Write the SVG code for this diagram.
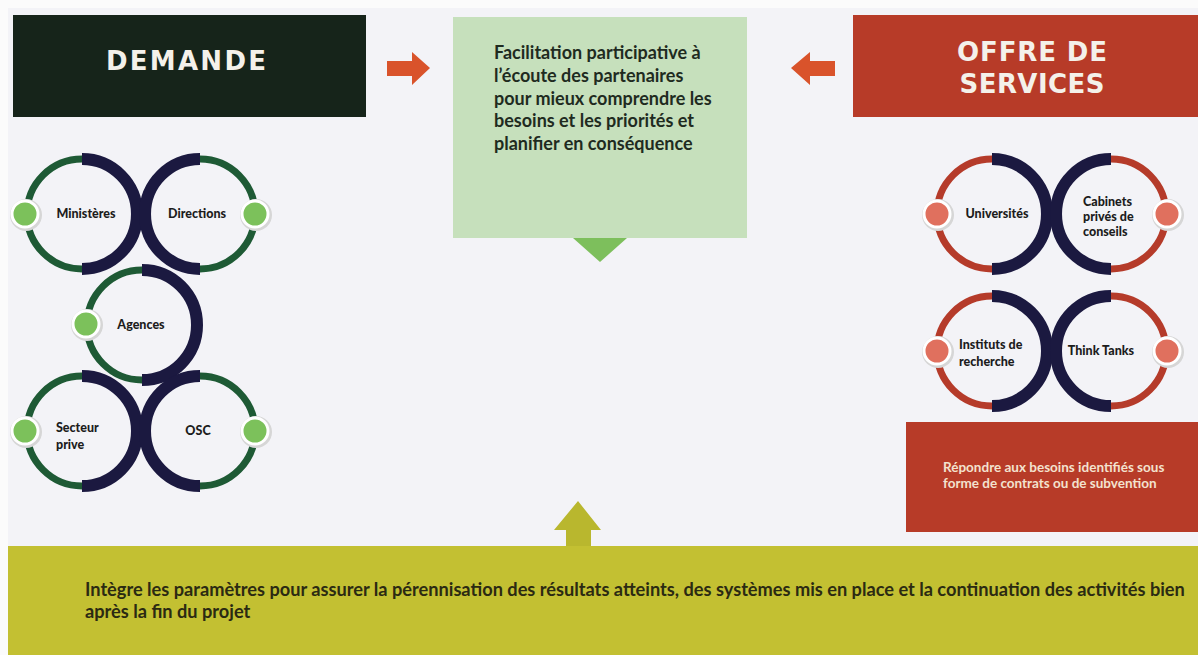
<svg xmlns="http://www.w3.org/2000/svg" width="1198" height="655" viewBox="0 0 1198 655">
<defs>
<style>
.t{font-family:Lato,"Open Sans","Liberation Sans",sans-serif;font-weight:700}
.hd{font-family:"DejaVu Sans","Liberation Sans",sans-serif;font-weight:700;fill:#f4f1ea;font-size:26px}
.lbl{fill:#1c1c1c;font-size:12.5px;font-weight:900}
.ring-g{fill:none;stroke:#1e5a35;stroke-width:7}
.ring-r{fill:none;stroke:#b53b2a;stroke-width:7}
.navy{fill:none;stroke:#1b1940;stroke-width:12}
.dot-g{fill:#7cc15b;stroke:#ffffff;stroke-width:3}
.dot-r{fill:#e0705e;stroke:#ffffff;stroke-width:3}
.shadow{fill:#d6d6d6}
.orange{fill:#d9532b}
</style>
</defs>
<rect x="0" y="0" width="1198" height="655" fill="#fbfbfb"/>
<rect x="8" y="8" width="1190" height="647" fill="#f3f3f7"/>

<g id="demande">
<rect x="13" y="15" width="353" height="102" fill="#16241a"/>
<text class="hd" x="186" y="70" text-anchor="middle" textLength="160" lengthAdjust="spacing">DEMANDE</text>
</g>

<g id="offre">
<rect x="853" y="15" width="345" height="102" fill="#b73b28"/>
<text class="hd" x="1032" y="61" text-anchor="middle" textLength="150" lengthAdjust="spacing">OFFRE DE</text>
<text class="hd" x="1032" y="93" text-anchor="middle" textLength="145" lengthAdjust="spacing">SERVICES</text>
</g>

<g id="facilitation">
<rect x="453" y="17" width="294" height="221" fill="#c6e0bc"/>
<polygon points="573,238 627,238 600,262" fill="#7dbf5c"/>
<text class="t" fill="#1f2b1f" font-size="18" x="494">
<tspan x="494" y="59">Facilitation participative à</tspan>
<tspan x="494" y="82">l’écoute des partenaires</tspan>
<tspan x="494" y="104.5">pour mieux comprendre les</tspan>
<tspan x="494" y="127">besoins et les priorités et</tspan>
<tspan x="494" y="150">planifier en conséquence</tspan>
</text>
</g>

<g id="connectors">
<polygon class="orange" points="387,61 412,61 412,52 430,68 412,85 412,76 387,76"/>
<polygon class="orange" points="835,61 810,61 810,52 791,68 810,85 810,76 835,76"/>
<polygon points="578,501 601,530 591,530 591,547 566,547 566,530 554,530" fill="#b9b72e"/>
</g>

<g id="ministeres">
<circle class="ring-g" cx="82" cy="214" r="55"/>
<path class="navy" d="M82,159 A55,55 0 0 1 82,269"/>
<circle class="shadow" cx="26" cy="215" r="16"/>
<circle class="dot-g" cx="25" cy="214" r="13"/>
<text class="t lbl" x="86" y="218" text-anchor="middle">Ministères</text>
</g>
<g id="directions">
<circle class="ring-g" cx="200" cy="214" r="55"/>
<path class="navy" d="M200,159 A55,55 0 0 0 200,269"/>
<circle class="shadow" cx="256" cy="215" r="16"/>
<circle class="dot-g" cx="255" cy="214" r="13"/>
<text class="t lbl" x="197" y="218" text-anchor="middle">Directions</text>
</g>
<g id="agences">
<circle class="ring-g" cx="142" cy="325" r="55"/>
<path class="navy" d="M142,270 A55,55 0 0 1 142,380"/>
<circle class="shadow" cx="87" cy="325" r="16"/>
<circle class="dot-g" cx="86" cy="324" r="13"/>
<text class="t lbl" x="141" y="329" text-anchor="middle">Agences</text>
</g>
<g id="secteur">
<circle class="ring-g" cx="82" cy="431" r="55"/>
<path class="navy" d="M82,376 A55,55 0 0 1 82,486"/>
<circle class="shadow" cx="26" cy="432" r="16"/>
<circle class="dot-g" cx="25" cy="431" r="13"/>
<text class="t lbl" x="56"><tspan x="56" y="432">Secteur</tspan><tspan x="56" y="449">prive</tspan></text>
</g>
<g id="osc">
<circle class="ring-g" cx="200" cy="431" r="55"/>
<path class="navy" d="M200,376 A55,55 0 0 0 200,486"/>
<circle class="shadow" cx="256" cy="432" r="16"/>
<circle class="dot-g" cx="255" cy="431" r="13"/>
<text class="t lbl" x="198" y="435" text-anchor="middle">OSC</text>
</g>

<g id="universites">
<circle class="ring-r" cx="992" cy="214" r="55"/>
<path class="navy" d="M992,159 A55,55 0 0 1 992,269"/>
<circle class="shadow" cx="938" cy="215" r="16"/>
<circle class="dot-r" cx="937" cy="214" r="13"/>
<text class="t lbl" x="997" y="218" text-anchor="middle">Universités</text>
</g>
<g id="cabinets">
<circle class="ring-r" cx="1111" cy="214" r="55"/>
<path class="navy" d="M1111,159 A55,55 0 0 0 1111,269"/>
<circle class="shadow" cx="1168" cy="215" r="16"/>
<circle class="dot-r" cx="1167" cy="214" r="13"/>
<text class="t lbl" x="1083"><tspan x="1083" y="206">Cabinets</tspan><tspan x="1083" y="221">privés de</tspan><tspan x="1083" y="236">conseils</tspan></text>
</g>
<g id="instituts">
<circle class="ring-r" cx="992" cy="351" r="55"/>
<path class="navy" d="M992,296 A55,55 0 0 1 992,406"/>
<circle class="shadow" cx="938" cy="352" r="16"/>
<circle class="dot-r" cx="937" cy="351" r="13"/>
<text class="t lbl" x="959"><tspan x="959" y="349">Instituts de</tspan><tspan x="959" y="366">recherche</tspan></text>
</g>
<g id="thinktanks">
<circle class="ring-r" cx="1111" cy="351" r="55"/>
<path class="navy" d="M1111,296 A55,55 0 0 0 1111,406"/>
<circle class="shadow" cx="1168" cy="352" r="16"/>
<circle class="dot-r" cx="1167" cy="351" r="13"/>
<text class="t lbl" x="1101" y="355" text-anchor="middle">Think Tanks</text>
</g>

<g id="repondre">
<rect x="906" y="422" width="292" height="110" fill="#b73b28"/>
<text class="t" fill="#f3e2cf" font-size="13.5"><tspan x="943" y="472">Répondre aux besoins identifiés sous</tspan><tspan x="943" y="488">forme de contrats ou de subvention</tspan></text>
</g>

<g id="perennisation">
<rect x="8" y="546" width="1190" height="109" fill="#c3c032"/>
<text class="t" fill="#2b2a12" font-size="18.2"><tspan x="85" y="596">Intègre les paramètres pour assurer la pérennisation des résultats atteints, des systèmes mis en place et la continuation des activités bien</tspan><tspan x="85" y="618">après la fin du projet</tspan></text>
</g>
</svg>
